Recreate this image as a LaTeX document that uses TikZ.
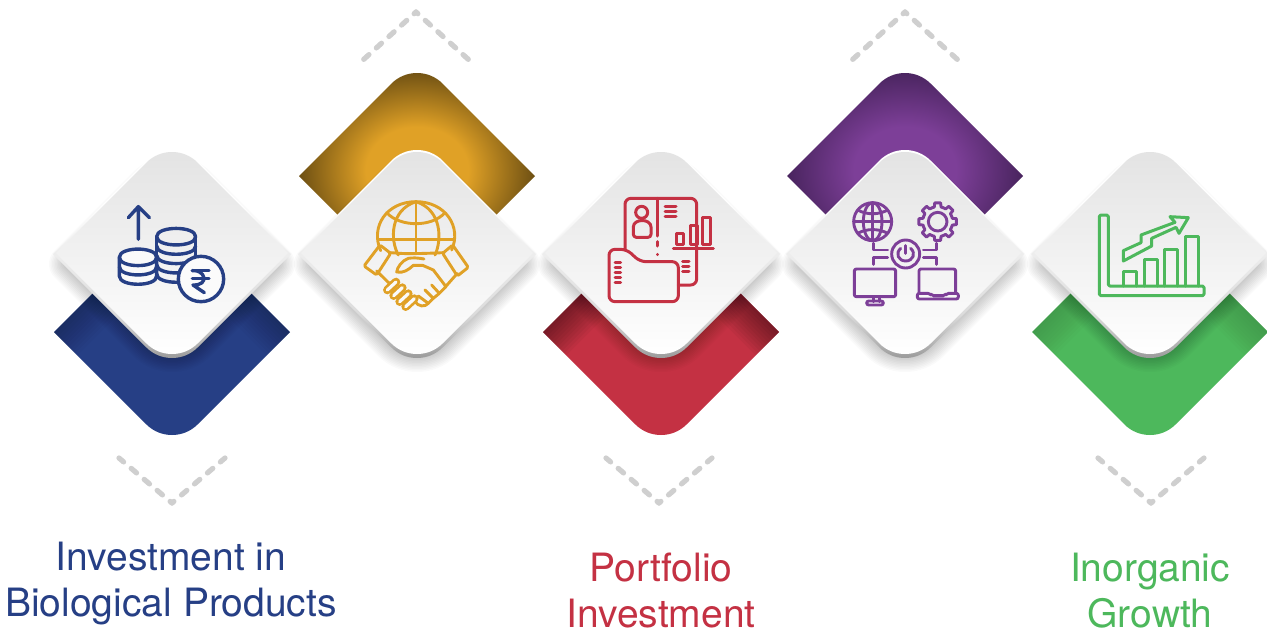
\documentclass[tikz,border=0pt]{standalone}
\usepackage{fontspec}
\setmainfont{TeX Gyre Heros}
\definecolor{cblue}{HTML}{263F85}
\definecolor{cgold}{HTML}{E0A126}
\definecolor{cgolddk}{HTML}{6E5013}
\definecolor{cred}{HTML}{C43143}
\definecolor{cpurple}{HTML}{7D3F98}
\definecolor{cpurpledk}{HTML}{45225A}
\definecolor{cgreen}{HTML}{4DB85C}
\definecolor{cdash}{HTML}{CFCFCF}
\pgfdeclareverticalshading{rimshade}{100bp}{color(0bp)=(black!42); color(25bp)=(black!42); color(29bp)=(black!30); color(36bp)=(black!14); color(50bp)=(black!7); color(62bp)=(white); color(75bp)=(white); color(100bp)=(white)}
\pgfdeclareradialshading{goldglow}{\pgfpointorigin}{color(0bp)=(cgold); color(10bp)=(cgold); color(23bp)=(cgolddk); color(50bp)=(cgolddk)}
\pgfdeclareradialshading{purpleglow}{\pgfpointorigin}{color(0bp)=(cpurple); color(10bp)=(cpurple); color(24bp)=(cpurpledk); color(50bp)=(cpurpledk)}
% full rounded diamond outline: cx, cy, half diagonal
\newcommand\diapath[3]{
  ({#1-25.5},{#2-#3+25.5}) .. controls ({#1-11.5},{#2-#3+11.5}) and ({#1+11.5},{#2-#3+11.5}) .. ({#1+25.5},{#2-#3+25.5})
  -- ({#1+#3},{#2}) -- ({#1+25.5},{#2+#3-25.5}) .. controls ({#1+11.5},{#2+#3-11.5}) and ({#1-11.5},{#2+#3-11.5}) .. ({#1-25.5},{#2+#3-25.5})
  -- ({#1-#3},{#2}) -- cycle}
% lower back shape: dark inner glow along its top edges only
\newcommand\backlow[4]{
  \fill[#3] \diapath{#1}{#2}{118};
  \begin{scope}
    \clip \diapath{#1}{#2}{118};
    \foreach \w in {6,12,...,66}{
      \draw[black,opacity=#4,line width=\w pt,line join=round]
        ({#1-118},{#2}) -- ({#1},{#2-118}) -- ({#1+118},{#2});
    }
  \end{scope}
}
% upper back shape: soft radial darkening towards the outline
\newcommand\backhigh[3]{
  \begin{scope}
    \clip \diapath{#1}{#2}{118};
    \path[shading=#3] ({#1},{#2-6}) ellipse [x radius=128,y radius=108];
  \end{scope}
}
\newcommand\cardshadow[1]{
  \foreach \w in {2,5,...,38}{
    \path[fill=black,draw=black,opacity=.021,line width=\w pt,line join=round] \diapath{#1}{264}{104};
  }
}
\newcommand\card[1]{
  \path[shading=rimshade] \diapath{#1}{254}{119};
  \path[top color=black!11,bottom color=white] \diapath{#1}{253}{116};
}
\tikzset{
  chev/.style={draw=cdash,line width=5.2pt,line cap=round,dash pattern=on 7pt off 10pt,dash phase=4.5pt},
  lbl/.style={font=\fontsize{39}{46}\selectfont,align=center,anchor=center},
  icon/.style 2 args={xshift=#1pt,yshift=-#2pt,x=.33333pt,y=-.33333pt,line join=round,line cap=round},
}
\begin{document}
\begin{tikzpicture}[x=1pt,y=-1pt]
\useasboundingbox (0,0) rectangle (1267,630);
\fill[white] (0,0) rectangle (1267,630);
% chevrons
\foreach \cx/\ay/\ey in {416/12/60,905/12/60,172/503/458,659/503/458,1151/503/458}{
  \draw[chev] (\cx,\ay) -- ({\cx-53},\ey);
  \draw[chev] (\cx,\ay) -- ({\cx+53},\ey);
}
% back shapes
\backlow{172}{332}{cblue}{.02}
\backhigh{417}{176}{goldglow}
\backlow{661}{332}{cred}{.04}
\backhigh{905}{176}{purpleglow}
\backlow{1150}{332}{cgreen}{.01}
% shadows, then cards
\foreach \c in {172,417,661,905,1150}{\cardshadow{\c}}
\foreach \c in {172,417,661,905,1150}{\card{\c}}

% icon 1: coins
\begin{scope}[icon={105}{195},draw=cblue,line width=3.4pt]
  \draw (100,133) -- (100,35) (70,68) -- (100,35) -- (133,68);
  \draw (155,125) .. controls (155,92) and (272,92) .. (272,125) .. controls (272,158) and (155,158) .. cycle;
  \draw (155,125) -- (155,240) (272,125) -- (272,240);
  \foreach \y in {153,181,209,237}{
    \draw (155,\y) .. controls (155,\y+33) and (272,\y+33) .. (272,\y);
  }
  \filldraw[fill=white!96!gray] (43,187) .. controls (43,154) and (155,154) .. (155,187) -- (155,243) .. controls (155,276) and (43,276) .. (43,243) -- cycle;
  \draw (43,187) .. controls (43,220) and (155,220) .. (155,187);
  \draw (43,215) .. controls (43,248) and (155,248) .. (155,215);
  \filldraw[fill=white!97!gray] (288,252) circle (68);
  \draw (262,227) -- (312,227) (262,250) -- (312,250);
  \draw (262,227) .. controls (300,222) and (315,272) .. (264,270) -- (298,293);
\end{scope}

% icon 2: globe and handshake
\begin{scope}[icon={350}{190},draw=cgold,line width=2.9pt]
  \draw (92,182) .. controls (60,110) and (110,35) .. (198,35) .. controls (286,35) and (336,110) .. (305,180);
  \draw (84,148) -- (312,148);
  \draw (198,35) -- (198,188);
  \draw (198,35) .. controls (120,60) and (120,150) .. (145,195);
  \draw (198,35) .. controls (276,60) and (276,150) .. (255,195);
  \draw (110,68) .. controls (150,112) and (246,112) .. (285,68);
  \draw (122,188) -- (150,190) .. controls (170,192) and (240,190) .. (278,188);
  \draw[rounded corners=1.5pt] (90,165) -- (122,190) -- (80,255) -- (42,228) -- cycle;
  \draw[rounded corners=1.5pt] (308,165) -- (278,190) -- (322,258) -- (355,232) -- cycle;
  \draw (80,243) -- (120,282);
  \draw (322,250) -- (285,292);
  \draw (222,207) .. controls (200,203) and (190,203) .. (175,205) .. controls (155,212) and (142,232) .. (140,246) .. controls (160,250) and (175,240) .. (190,226) -- (218,226) -- (250,240) -- (288,290) -- (268,310) -- (245,285) (268,310) -- (250,325) -- (225,300) (250,325) -- (235,340) -- (205,318);
  \draw (235,340) .. controls (225,352) and (205,350) .. (195,335);
  \foreach \px/\py in {126/288,145/305,163/323,181/338}{
    \draw[line width=8.6pt] (\px-14,\py+12) -- (\px+12,\py-12);
    \draw[line width=3.2pt,draw=white!96!gray] (\px-14,\py+12) -- (\px+12,\py-12);
  }
\end{scope}

% icon 3: documents and folder
\begin{scope}[icon={590}{180},draw=cred,line width=3pt]
  \draw[rounded corners=6pt] (105,208) -- (105,55) -- (320,55) -- (320,315) -- (265,315);
  \draw (203,55) -- (203,168) (203,185) -- (203,198) (203,223) -- (203,224);
  \draw (155,97) circle (18);
  \draw[rounded corners=3pt] (130,172) -- (130,150) .. controls (130,115) and (183,115) .. (183,150) -- (183,172) -- cycle;
  \draw (225,80) -- (258,80) (225,95) -- (258,95) (225,110) -- (258,110);
  \draw (258,193) rectangle (280,160) (300,193) rectangle (322,137) (337,193) rectangle (360,112);
  \draw (250,205) -- (370,205);
  \draw (278,243) -- (297,243) (278,258) -- (297,258) (278,273) -- (297,273);
  \draw[rounded corners=6pt] (57,208) -- (110,208) -- (150,245) -- (265,245) -- (265,365) -- (57,365) -- cycle;
  \draw (75,247) -- (92,247) (75,262) -- (92,262) (75,277) -- (92,277) (75,292) -- (92,292) (75,307) -- (92,307);
\end{scope}

% icon 4: network
\begin{scope}[icon={835}{185},draw=cpurple,line width=2.9pt]
  \draw (113,110) circle (57);
  \draw (113,110) ellipse [x radius=28,y radius=57];
  \draw (113,53) -- (113,167) (56,110) -- (170,110);
  \draw (68,75) .. controls (95,90) and (131,90) .. (158,75);
  \draw (68,145) .. controls (95,130) and (131,130) .. (158,145);
  \draw (308,110) circle (28);
  \foreach \a in {0,45,...,315}{
    \draw ({308+45*cos(\a-22.5)},{110+45*sin(\a-22.5)}) -- ({308+45*cos(\a-13)},{110+45*sin(\a-13)}) -- ({308+57*cos(\a-9)},{110+57*sin(\a-9)}) -- ({308+57*cos(\a+9)},{110+57*sin(\a+9)}) -- ({308+45*cos(\a+13)},{110+45*sin(\a+13)}) -- ({308+45*cos(\a+22.5)},{110+45*sin(\a+22.5)});
  }
  \draw (212,207) circle (42);
  \draw (212,182) -- (212,205);
  \draw (197,190) .. controls (180,205) and (190,228) .. (212,228) .. controls (234,228) and (244,205) .. (227,190);
  \draw (115,175) -- (115,195) -- (158,195) (115,238) -- (115,218) -- (158,218);
  \draw (305,175) -- (305,195) -- (265,195) (305,238) -- (305,218) -- (265,218);
  \draw[rounded corners=2pt] (58,252) rectangle (182,335);
  \draw (115,335) -- (115,350) (133,335) -- (133,350);
  \draw[rounded corners=2pt] (95,348) rectangle (145,360);
  \draw[rounded corners=2pt] (252,325) -- (252,252) -- (362,252) -- (362,325);
  \draw[rounded corners=2pt] (247,325) -- (285,325) -- (290,332) -- (330,332) -- (335,325) -- (370,325) -- (370,342) -- (247,342) -- cycle;
\end{scope}

% icon 5: growth chart
\begin{scope}[icon={1080}{195},draw=cgreen,line width=3pt]
  \draw[rounded corners=1.5pt] (58,60) -- (85,60) -- (85,273) -- (372,273) -- (372,302) -- (58,302) -- cycle;
  \draw (130,273) -- (130,228) -- (170,228) -- (170,273);
  \draw (192,273) -- (192,193) -- (232,193) -- (232,273);
  \draw (254,273) -- (254,163) -- (293,163) -- (293,273);
  \draw (316,273) -- (316,125) -- (356,125) -- (356,273);
  \draw (130,198) -- (130,167) -- (183,143) -- (183,120) -- (285,82) -- (270,65) -- (325,68) -- (297,115) -- (288,97) -- (215,130) -- (215,153) -- cycle;
\end{scope}

% labels
\node[lbl,text=cblue] (t1) at (171,584) {Investment in\\Biological Products};
\node[lbl,text=cred] (t2) at (661,591) {Portfolio\\Investment};
\node[lbl,text=cgreen] (t3) at (1150,591) {Inorganic\\Growth};
\end{tikzpicture}
\end{document}
